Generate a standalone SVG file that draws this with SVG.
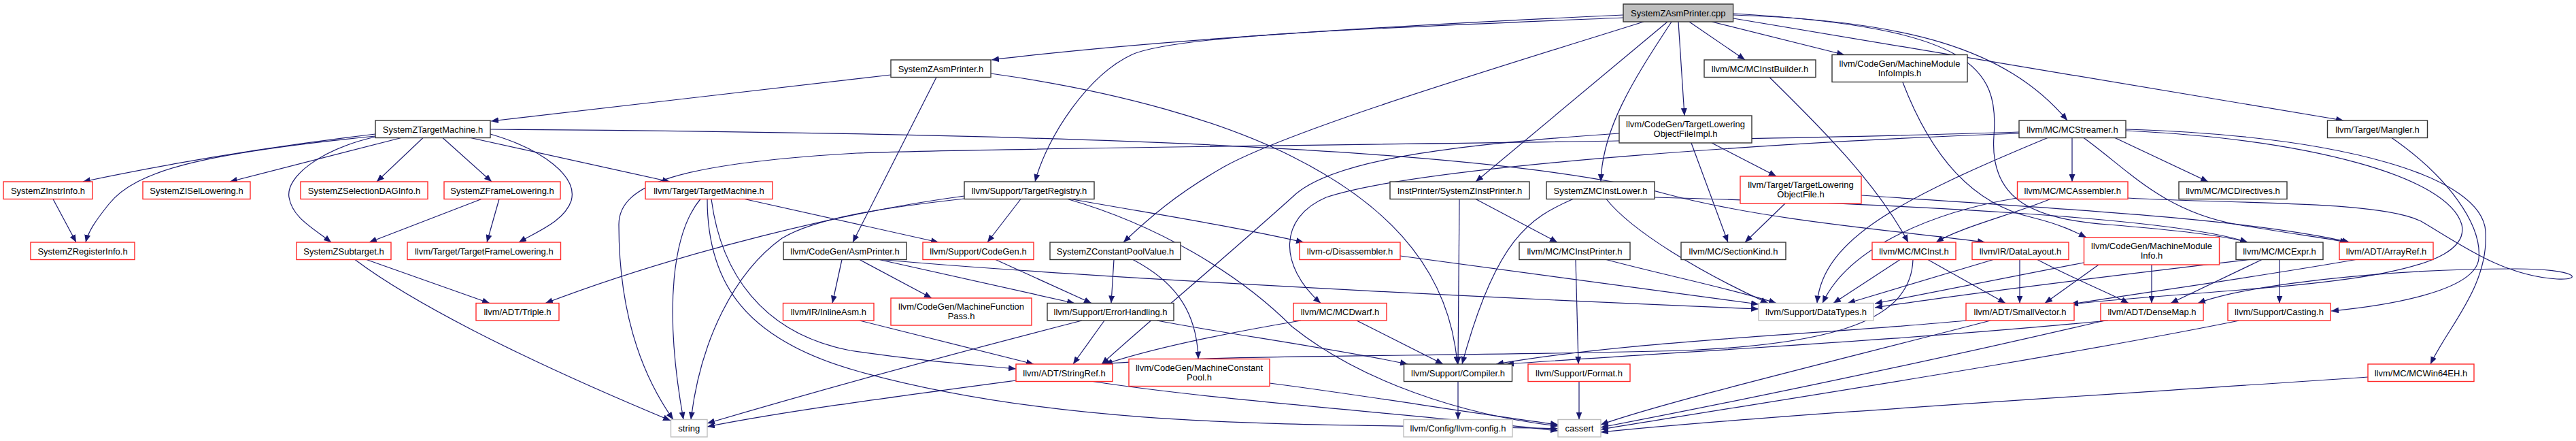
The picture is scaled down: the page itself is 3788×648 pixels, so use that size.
<svg xmlns="http://www.w3.org/2000/svg" width="3788" height="648" viewBox="0 0 3788 648">
<style>
.e{fill:none;stroke:#191970;stroke-width:1.2}
.n rect{fill:#fff;stroke:#333;stroke-width:1.4}
.r rect{stroke:#ff2a2a}
.g rect{stroke:#bfbfbf}
.root rect{fill:#bfbfbf}
text{font-family:"Liberation Sans",Arial,Helvetica,sans-serif;font-size:13px;fill:#000;text-anchor:middle}
</style>
<defs>
<marker id="a" markerUnits="userSpaceOnUse" markerWidth="11" markerHeight="9" refX="11" refY="4.5" orient="auto"><path d="M0,0 L11,4.5 L0,9 z" fill="#191970"/></marker>
</defs>
<rect width="3788" height="648" fill="#fff"/>
<g id="edges">
<path class="e" marker-end="url(#a)" d="M2387,22 C2100,35 1700,58 1458,88"/>
<path class="e" marker-end="url(#a)" d="M2387,26 C2000,42 1730,52 1665,80 C1600,110 1540,200 1522,267"/>
<path class="e" marker-end="url(#a)" d="M2417,32 C2200,100 1900,190 1800,245 C1730,285 1690,320 1652,356"/>
<path class="e" marker-end="url(#a)" d="M2452,32 L2170,267"/>
<path class="e" marker-end="url(#a)" d="M2458,32 C2400,120 2356,190 2354,267"/>
<path class="e" marker-end="url(#a)" d="M2468,32 L2477,170"/>
<path class="e" marker-end="url(#a)" d="M2484,32 L2566,88"/>
<path class="e" marker-end="url(#a)" d="M2517,32 L2712,80.5"/>
<path class="e" marker-end="url(#a)" d="M2549,22 C2800,30 2950,70 3040,177"/>
<path class="e" marker-end="url(#a)" d="M2549,20 C2900,40 2940,100 2932,200 C2925,300 3000,322 3100,330 C3200,338 3270,346 3305,356"/>
<path class="e" marker-end="url(#a)" d="M2549,27 L3446,177"/>
<path class="e" marker-end="url(#a)" d="M1310,110 L722,178"/>
<path class="e" marker-end="url(#a)" d="M1377,113.5 L1254,356"/>
<path class="e" marker-end="url(#a)" d="M1457,108 C1650,135 1800,180 1900,230 C2020,290 2130,380 2143,535"/>
<path class="e" marker-end="url(#a)" d="M552,197 C400,215 250,240 122,267"/>
<path class="e" marker-end="url(#a)" d="M552,200 C300,225 200,250 160,300 C140,325 130,340 126,356"/>
<path class="e" marker-end="url(#a)" d="M552,201 C470,220 420,260 425,290 C430,320 460,335 487,356"/>
<path class="e" marker-end="url(#a)" d="M590,202.5 L338,267"/>
<path class="e" marker-end="url(#a)" d="M622,202.5 L554,267"/>
<path class="e" marker-end="url(#a)" d="M651,202.5 L723,267"/>
<path class="e" marker-end="url(#a)" d="M721,197 C800,220 850,260 840,295 C830,325 790,340 763,356"/>
<path class="e" marker-end="url(#a)" d="M692,202.5 L985,267"/>
<path class="e" marker-end="url(#a)" d="M721,190 C1500,195 2200,215 2450,285 C2600,325 2800,340 2919,356"/>
<path class="e" marker-end="url(#a)" d="M1030,292.5 C990,340 975,450 1005,616.5"/>
<path class="e" marker-end="url(#a)" d="M1046,292.5 C1060,400 1120,490 1250,515 C1350,530 1420,535 1494,542"/>
<path class="e" marker-end="url(#a)" d="M1040,292.5 C1040,420 1100,500 1260,545 C1600,640 2000,620 2291,630"/>
<path class="e" marker-end="url(#a)" d="M1095,292.5 L1380,356"/>
<path class="e" marker-end="url(#a)" d="M1418,288 C1250,310 1000,370 802,445.5"/>
<path class="e" marker-end="url(#a)" d="M1418,292 C1300,305 1200,320 1150,350 C1080,400 1030,500 1016,616.5"/>
<path class="e" marker-end="url(#a)" d="M1501,292.5 L1452,356"/>
<path class="e" marker-end="url(#a)" d="M1575,292.5 C1700,315 1800,330 1917,356"/>
<path class="e" marker-end="url(#a)" d="M1570,292.5 C1700,330 1820,400 1900,480 C2000,560 2150,610 2291,626"/>
<path class="e" marker-end="url(#a)" d="M1238,381.5 L1224,445.5"/>
<path class="e" marker-end="url(#a)" d="M1264,381.5 L1370,438"/>
<path class="e" marker-end="url(#a)" d="M1293,381.5 L1580,445.5"/>
<path class="e" marker-end="url(#a)" d="M1297,381.5 C1500,400 2000,430 2586,454"/>
<path class="e" marker-end="url(#a)" d="M1464,381.5 L1605,445.5"/>
<path class="e" marker-end="url(#a)" d="M1638,381.5 L1634,445.5"/>
<path class="e" marker-end="url(#a)" d="M1666,381.5 C1720,410 1760,450 1762,527.5"/>
<path class="e" marker-end="url(#a)" d="M1624,471 L1578,535"/>
<path class="e" marker-end="url(#a)" d="M1701,471 C1800,490 1950,510 2070,535"/>
<path class="e" marker-end="url(#a)" d="M1591,471 C1400,520 1200,575 1040,622"/>
<path class="e" marker-end="url(#a)" d="M1494,559 C1300,585 1150,605 1040,627"/>
<path class="e" marker-end="url(#a)" d="M1607,560.5 C1800,590 2100,610 2291,633"/>
<path class="e" marker-end="url(#a)" d="M1264,471 L1520,535"/>
<path class="e" marker-end="url(#a)" d="M1867,563 C2000,580 2150,605 2291,624"/>
<path class="e" marker-end="url(#a)" d="M2059,376 C2300,410 2450,430 2586,447"/>
<path class="e" marker-end="url(#a)" d="M2317,381.5 L2321,535"/>
<path class="e" marker-end="url(#a)" d="M2362,381.5 C2450,405 2550,425 2612,445.5"/>
<path class="e" marker-end="url(#a)" d="M2322,560.5 L2322,616.5"/>
<path class="e" marker-end="url(#a)" d="M2144,560.5 L2144,616.5"/>
<path class="e" marker-end="url(#a)" d="M2170,292.5 L2290,356"/>
<path class="e" marker-end="url(#a)" d="M2146,292.5 L2144,535"/>
<path class="e" marker-end="url(#a)" d="M1913,471 C1800,490 1700,510 1625,535"/>
<path class="e" marker-end="url(#a)" d="M1995,471 L2122,535"/>
<path class="e" marker-end="url(#a)" d="M2313,292.5 C2250,320 2200,350 2150,535"/>
<path class="e" marker-end="url(#a)" d="M2362,292.5 C2400,340 2500,400 2600,445.5"/>
<path class="e" marker-end="url(#a)" d="M2433,290 C2800,300 3200,320 3305,356"/>
<path class="e" marker-end="url(#a)" d="M2517,210 L2612,259"/>
<path class="e" marker-end="url(#a)" d="M2487,210 L2541,356"/>
<path class="e" marker-end="url(#a)" d="M2381,196 C2100,215 1950,240 1900,290 C1800,380 1680,480 1620,535"/>
<path class="e" marker-end="url(#a)" d="M2969,194 C2400,212 1500,215 1260,225 C1000,240 910,270 910,330 C910,470 950,560 990,616.5"/>
<path class="e" marker-end="url(#a)" d="M3047,202.5 L3047,267"/>
<path class="e" marker-end="url(#a)" d="M3110,202.5 L3247,267"/>
<path class="e" marker-end="url(#a)" d="M3011,202.5 C2800,290 2680,350 2672,445.5"/>
<path class="e" marker-end="url(#a)" d="M2969,196 C2700,205 2100,240 1950,290 C1880,320 1880,390 1942,445.5"/>
<path class="e" marker-end="url(#a)" d="M3064,202.5 C3130,250 3180,310 3290,330 C3380,345 3420,350 3452,356"/>
<path class="e" marker-end="url(#a)" d="M3126,190 C3450,200 3650,260 3655,340 C3660,420 3600,480 3574,535"/>
<path class="e" marker-end="url(#a)" d="M3126,192 C3400,205 3600,260 3620,330 C3640,420 3300,420 3045,447"/>
<path class="e" marker-end="url(#a)" d="M2966,291 C2850,310 2720,360 2680,445.5"/>
<path class="e" marker-end="url(#a)" d="M3015,292.5 C2960,315 2880,335 2847,356"/>
<path class="e" marker-end="url(#a)" d="M3129,291 C3300,300 3500,295 3560,325 C3620,360 3680,405 3760,410 C3800,412 3790,395 3700,395 C3500,395 3300,420 3232,445.5"/>
<path class="e" marker-end="url(#a)" d="M3517,202.5 C3600,260 3650,330 3645,380 C3640,430 3500,450 3428,457"/>
<path class="e" marker-end="url(#a)" d="M3308,381.5 C3150,400 2900,430 2757,452"/>
<path class="e" marker-end="url(#a)" d="M3326,381.5 L3192,445.5"/>
<path class="e" marker-end="url(#a)" d="M3352,381.5 L3352,445.5"/>
<path class="e" marker-end="url(#a)" d="M3464,381.5 C3300,410 3150,430 3045,447"/>
<path class="e" marker-end="url(#a)" d="M2798,121 C2840,230 2900,300 2990,320 C3030,330 3050,340 3068,349"/>
<path class="e" marker-end="url(#a)" d="M3064,386 L2757,446"/>
<path class="e" marker-end="url(#a)" d="M3086,389 L3007,445.5"/>
<path class="e" marker-end="url(#a)" d="M3164,389 L3164,445.5"/>
<path class="e" marker-end="url(#a)" d="M2931,381.5 L2717,445.5"/>
<path class="e" marker-end="url(#a)" d="M2970,381.5 L2970,445.5"/>
<path class="e" marker-end="url(#a)" d="M2996,381.5 C3050,410 3100,430 3130,445.5"/>
<path class="e" marker-end="url(#a)" d="M2794,381.5 L2696,445.5"/>
<path class="e" marker-end="url(#a)" d="M2835,381.5 L2949,445.5"/>
<path class="e" marker-end="url(#a)" d="M2813,381.5 C2810,470 2700,505 2480,515 C2100,525 1800,520 1620,535"/>
<path class="e" marker-end="url(#a)" d="M2891,471 C2700,490 2400,500 2200,535"/>
<path class="e" marker-end="url(#a)" d="M2927,471 C2700,530 2450,590 2354,624"/>
<path class="e" marker-end="url(#a)" d="M3100,471 C2800,500 2500,515 2215,535"/>
<path class="e" marker-end="url(#a)" d="M3095,471 C2800,540 2500,600 2354,628"/>
<path class="e" marker-end="url(#a)" d="M3293,471 C3000,530 2600,590 2354,631"/>
<path class="e" marker-end="url(#a)" d="M3482,554 C3100,580 2600,610 2354,635"/>
<path class="e" marker-end="url(#a)" d="M2625,299 L2566,356"/>
<path class="e" marker-end="url(#a)" d="M2737,287 C3000,305 3300,320 3455,356"/>
<path class="e" marker-end="url(#a)" d="M708,292.5 L543,356"/>
<path class="e" marker-end="url(#a)" d="M734,292.5 L716,356"/>
<path class="e" marker-end="url(#a)" d="M539,381.5 L720,445.5"/>
<path class="e" marker-end="url(#a)" d="M522,381.5 C600,440 750,520 986,618"/>
<path class="e" marker-end="url(#a)" d="M78,292.5 L112,356"/>
<path class="e" marker-end="url(#a)" d="M2602,113.5 C2680,190 2760,270 2806,356"/>
</g>
<g id="root" class="n root"><rect x="2387" y="6" width="161.6" height="26"/><text x="2467.8" y="24">SystemZAsmPrinter.cpp</text></g>
<g id="n_asmh" class="n"><rect x="1310" y="88" width="147" height="25.5"/><text x="1383.5" y="105.5">SystemZAsmPrinter.h</text></g>
<g id="n_instbuilder" class="n"><rect x="2506" y="88" width="164" height="25.5"/><text x="2588" y="105.5">llvm/MC/MCInstBuilder.h</text></g>
<g id="n_mmiimpls" class="n"><rect x="2694" y="80.5" width="199" height="40"/><text x="2793.5" y="97.5">llvm/CodeGen/MachineModule</text><text x="2793.5" y="111.5">InfoImpls.h</text></g>
<g id="n_tm" class="n"><rect x="552" y="177" width="169" height="25.5"/><text x="636.5" y="194.5">SystemZTargetMachine.h</text></g>
<g id="n_tlofimpl" class="n"><rect x="2381" y="170" width="195" height="40"/><text x="2478.5" y="187">llvm/CodeGen/TargetLowering</text><text x="2478.5" y="201">ObjectFileImpl.h</text></g>
<g id="n_streamer" class="n"><rect x="2969" y="177" width="157" height="25.5"/><text x="3047.5" y="194.5">llvm/MC/MCStreamer.h</text></g>
<g id="n_mangler" class="n"><rect x="3422.5" y="177" width="147" height="25.5"/><text x="3496" y="194.5">llvm/Target/Mangler.h</text></g>
<g id="n_instrinfo" class="n r"><rect x="5" y="267" width="131" height="25.5"/><text x="70.5" y="284.5">SystemZInstrInfo.h</text></g>
<g id="n_isel" class="n r"><rect x="210" y="267" width="158" height="25.5"/><text x="289" y="284.5">SystemZISelLowering.h</text></g>
<g id="n_seldag" class="n r"><rect x="442" y="267" width="187" height="25.5"/><text x="535.5" y="284.5">SystemZSelectionDAGInfo.h</text></g>
<g id="n_framelow" class="n r"><rect x="653" y="267" width="171" height="25.5"/><text x="738.5" y="284.5">SystemZFrameLowering.h</text></g>
<g id="n_ttm" class="n r"><rect x="949" y="267" width="187" height="25.5"/><text x="1042.5" y="284.5">llvm/Target/TargetMachine.h</text></g>
<g id="n_treg" class="n"><rect x="1418" y="267" width="191" height="25.5"/><text x="1513.5" y="284.5">llvm/Support/TargetRegistry.h</text></g>
<g id="n_instprinter" class="n"><rect x="2044" y="267" width="205" height="25.5"/><text x="2146.5" y="284.5">InstPrinter/SystemZInstPrinter.h</text></g>
<g id="n_mcinstlower" class="n"><rect x="2274" y="267" width="159" height="25.5"/><text x="2353.5" y="284.5">SystemZMCInstLower.h</text></g>
<g id="n_tlof" class="n r"><rect x="2559" y="259" width="178" height="40"/><text x="2648" y="276">llvm/Target/TargetLowering</text><text x="2648" y="290">ObjectFile.h</text></g>
<g id="n_assembler" class="n r"><rect x="2966.5" y="267" width="162.5" height="25.5"/><text x="3047.75" y="284.5">llvm/MC/MCAssembler.h</text></g>
<g id="n_directives" class="n"><rect x="3204" y="267" width="159" height="25.5"/><text x="3283.5" y="284.5">llvm/MC/MCDirectives.h</text></g>
<g id="n_reginfo" class="n r"><rect x="45" y="356" width="153" height="25.5"/><text x="121.5" y="373.5">SystemZRegisterInfo.h</text></g>
<g id="n_subtarget" class="n r"><rect x="436" y="356" width="139" height="25.5"/><text x="505.5" y="373.5">SystemZSubtarget.h</text></g>
<g id="n_tfl" class="n r"><rect x="599" y="356" width="225.5" height="25.5"/><text x="711.75" y="373.5">llvm/Target/TargetFrameLowering.h</text></g>
<g id="n_asmprinter" class="n"><rect x="1152" y="356" width="181" height="25.5"/><text x="1242.5" y="373.5">llvm/CodeGen/AsmPrinter.h</text></g>
<g id="n_codegen" class="n r"><rect x="1357" y="356" width="163" height="25.5"/><text x="1438.5" y="373.5">llvm/Support/CodeGen.h</text></g>
<g id="n_cpv" class="n"><rect x="1544" y="356" width="192" height="25.5"/><text x="1640" y="373.5">SystemZConstantPoolValue.h</text></g>
<g id="n_disasm" class="n r"><rect x="1911" y="356" width="148" height="25.5"/><text x="1985" y="373.5">llvm-c/Disassembler.h</text></g>
<g id="n_mcinstprinter" class="n"><rect x="2234" y="356" width="163" height="25.5"/><text x="2315.5" y="373.5">llvm/MC/MCInstPrinter.h</text></g>
<g id="n_sectionkind" class="n"><rect x="2472" y="356" width="154" height="25.5"/><text x="2549" y="373.5">llvm/MC/SectionKind.h</text></g>
<g id="n_mcinst" class="n r"><rect x="2753" y="356" width="123" height="25.5"/><text x="2814.5" y="373.5">llvm/MC/MCInst.h</text></g>
<g id="n_datalayout" class="n r"><rect x="2900" y="356" width="142" height="25.5"/><text x="2971" y="373.5">llvm/IR/DataLayout.h</text></g>
<g id="n_mmi" class="n r"><rect x="3064.5" y="349" width="199" height="40"/><text x="3164" y="366">llvm/CodeGen/MachineModule</text><text x="3164" y="380">Info.h</text></g>
<g id="n_mcexpr" class="n"><rect x="3288" y="356" width="128" height="25.5"/><text x="3352" y="373.5">llvm/MC/MCExpr.h</text></g>
<g id="n_arrayref" class="n r"><rect x="3440" y="356" width="138" height="25.5"/><text x="3509" y="373.5">llvm/ADT/ArrayRef.h</text></g>
<g id="n_triple" class="n r"><rect x="700" y="445.5" width="122" height="25.5"/><text x="761" y="463">llvm/ADT/Triple.h</text></g>
<g id="n_inlineasm" class="n r"><rect x="1151.5" y="445.5" width="133.5" height="25.5"/><text x="1218.25" y="463">llvm/IR/InlineAsm.h</text></g>
<g id="n_mfpass" class="n r"><rect x="1310" y="438" width="207" height="40"/><text x="1413.5" y="455">llvm/CodeGen/MachineFunction</text><text x="1413.5" y="469">Pass.h</text></g>
<g id="n_errh" class="n"><rect x="1540" y="445.5" width="186" height="25.5"/><text x="1633" y="463">llvm/Support/ErrorHandling.h</text></g>
<g id="n_mcdwarf" class="n r"><rect x="1902" y="445.5" width="137" height="25.5"/><text x="1970.5" y="463">llvm/MC/MCDwarf.h</text></g>
<g id="n_datatypes" class="n g"><rect x="2586" y="445.5" width="169" height="25.5"/><text x="2670.5" y="463">llvm/Support/DataTypes.h</text></g>
<g id="n_smallvec" class="n r"><rect x="2891" y="445.5" width="159" height="25.5"/><text x="2970.5" y="463">llvm/ADT/SmallVector.h</text></g>
<g id="n_densemap" class="n r"><rect x="3089" y="445.5" width="151" height="25.5"/><text x="3164.5" y="463">llvm/ADT/DenseMap.h</text></g>
<g id="n_casting" class="n r"><rect x="3276" y="445.5" width="151" height="25.5"/><text x="3351.5" y="463">llvm/Support/Casting.h</text></g>
<g id="n_stringref" class="n r"><rect x="1494" y="535" width="142" height="25.5"/><text x="1565" y="552.5">llvm/ADT/StringRef.h</text></g>
<g id="n_mcp" class="n r"><rect x="1660" y="527.5" width="207" height="40"/><text x="1763.5" y="544.5">llvm/CodeGen/MachineConstant</text><text x="1763.5" y="558.5">Pool.h</text></g>
<g id="n_compiler" class="n"><rect x="2064.5" y="535" width="159" height="25.5"/><text x="2144" y="552.5">llvm/Support/Compiler.h</text></g>
<g id="n_format" class="n r"><rect x="2247" y="535" width="150" height="25.5"/><text x="2322" y="552.5">llvm/Support/Format.h</text></g>
<g id="n_win64" class="n r"><rect x="3482" y="535" width="156" height="25.5"/><text x="3560" y="552.5">llvm/MC/MCWin64EH.h</text></g>
<g id="n_string" class="n g"><rect x="986.5" y="616.5" width="53.5" height="25.5"/><text x="1013.25" y="634">string</text></g>
<g id="n_config" class="n g"><rect x="2064" y="616.5" width="160" height="25.5"/><text x="2144" y="634">llvm/Config/llvm-config.h</text></g>
<g id="n_cassert" class="n g"><rect x="2291" y="616.5" width="63" height="25.5"/><text x="2322.5" y="634">cassert</text></g>
</svg>
